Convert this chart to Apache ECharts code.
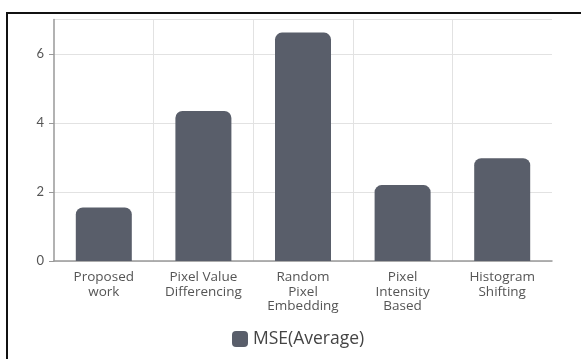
<!DOCTYPE html>
<html>
<head>
<meta charset="utf-8">
<script src="https://cdn.jsdelivr.net/npm/echarts@6/dist/echarts.min.js"></script>
<style>
  html, body { margin: 0; padding: 0; background: #fff; }
  #chart { width: 581px; height: 359px; }
</style>
</head>
<body>
<div id="chart"></div>
<script>
// Average MSE per steganography method
const categories = [
  'Proposed\nwork',
  'Pixel Value\nDifferencing',
  'Random\nPixel\nEmbedding',
  'Pixel\nIntensity\nBased',
  'Histogram\nShifting'
];
const mseAverage = [1.55, 4.35, 6.62, 2.2, 2.98];
const seriesName = 'MSE(Average)';

const chart = echarts.init(document.getElementById('chart'), null, { renderer: 'canvas' });
chart.setOption({
  animation: false,
  textStyle: { fontFamily: 'Lato' },
  graphic: [{
    type: 'rect',
    shape: { x: 7, y: 13, width: 640, height: 420 },
    style: { fill: 'none', stroke: '#111', lineWidth: 2 },
    silent: true
  }],
  grid: { left: 54, right: 29, top: 19.5, bottom: 98 },
  legend: {
    data: [seriesName],
    bottom: 6,
    left: 227,
    itemWidth: 16,
    itemHeight: 16,
    itemGap: 10,
    icon: 'roundRect',
    textStyle: { fontSize: 17.5, color: '#444', fontFamily: 'Open Sans' }
  },
  xAxis: {
    type: 'category',
    data: categories,
    axisLine: { lineStyle: { color: '#999', width: 1.5 } },
    axisTick: { alignWithLabel: true, length: 5, lineStyle: { color: '#999' } },
    axisLabel: { color: '#555', fontSize: 13.5, lineHeight: 14.5, margin: 9, interval: 0, fontFamily: 'Open Sans' },
    splitLine: { show: true, showMinLine: false, showMaxLine: false, lineStyle: { color: '#e2e2e2' } }
  },
  yAxis: {
    type: 'value',
    min: 0,
    max: 7,
    interval: 2,
    axisLine: { show: true, lineStyle: { color: '#999', width: 1.5 } },
    axisTick: { show: true, length: 5, lineStyle: { color: '#999' } },
    axisLabel: { color: '#555', fontSize: 13, margin: 10, showMaxLabel: false },
    splitLine: { lineStyle: { color: '#e2e2e2' } }
  },
  series: [{
    name: seriesName,
    type: 'bar',
    data: mseAverage,
    barWidth: 56,
    itemStyle: { color: '#595e6a', borderRadius: [7, 7, 0, 0] }
  }]
});
</script>
</body>
</html>
